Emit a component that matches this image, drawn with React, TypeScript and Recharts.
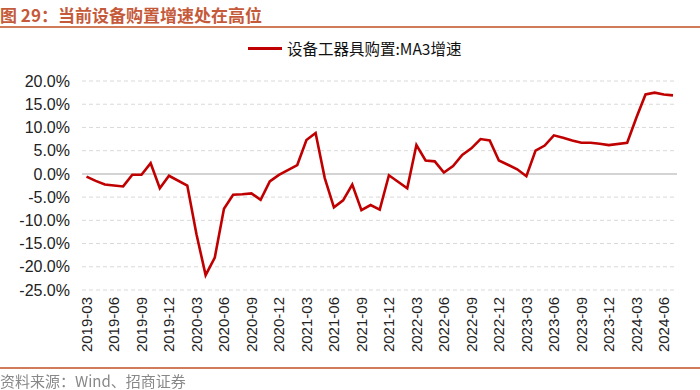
import { CartesianGrid, Line, LineChart, ReferenceLine, XAxis, YAxis } from 'recharts'

const months = [
  '2019-03', '2019-04', '2019-05', '2019-06', '2019-07', '2019-08', '2019-09', '2019-10', '2019-11', '2019-12',
  '2020-01', '2020-02', '2020-03', '2020-04', '2020-05', '2020-06', '2020-07', '2020-08', '2020-09', '2020-10',
  '2020-11', '2020-12', '2021-01', '2021-02', '2021-03', '2021-04', '2021-05', '2021-06', '2021-07', '2021-08',
  '2021-09', '2021-10', '2021-11', '2021-12', '2022-01', '2022-02', '2022-03', '2022-04', '2022-05', '2022-06',
  '2022-07', '2022-08', '2022-09', '2022-10', '2022-11', '2022-12', '2023-01', '2023-02', '2023-03', '2023-04',
  '2023-05', '2023-06', '2023-07', '2023-08', '2023-09', '2023-10', '2023-11', '2023-12', '2024-01', '2024-02',
  '2024-03', '2024-04', '2024-05', '2024-06', '2024-07',
]

// 设备工器具购置 MA3 增速 (%), 1月无单月数据
const ma3Growth: (number | null)[] = [
  -0.6, -1.5, -2.3, -2.5, -2.7, -0.2, -0.2, 2.3, -3.1, -0.4,
  null, -2.5, -13, -21.8, -18, -7.5, -4.5, -4.4, -4.2, -5.6,
  -1.6, -0.2, null, 1.9, 7.3, 8.8, -0.9, -7.2, -5.7, -2.3,
  -7.8, -6.7, -7.7, -0.3, null, -3.1, 6.2, 2.9, 2.7, 0.3,
  1.7, 4.1, 5.5, 7.5, 7.2, 2.9, null, 1.0, -0.5, 5.0,
  6.1, 8.3, 7.8, 7.2, 6.7, 6.7, 6.5, 6.2, null, 6.7,
  12.1, 17.1, 17.5, 17.1, 16.9,
]

const yTicks = [-25, -20, -15, -10, -5, 0, 5, 10, 15, 20]

const data = months.map((month, i) => ({ month, value: ma3Growth[i] }))

const ARIAL = '"Liberation Sans", Arial, sans-serif'
const CJK = '"Noto Sans CJK SC", "Liberation Sans", sans-serif'

function MonthTick({ x, y, payload }: any) {
  return (
    <text
      x={x}
      y={y}
      transform={`rotate(-90 ${x} ${y})`}
      textAnchor="end"
      dy="0.35em"
      fontSize={15}
      fontFamily={ARIAL}
      fill="#222"
    >
      {payload.value}
    </text>
  )
}

export default function App() {
  return (
    <div style={{ position: 'fixed', left: 0, top: 0, width: 700, height: 390, background: '#fff' }}>
      <div
        style={{
          position: 'absolute',
          left: 0,
          top: 2,
          fontFamily: CJK,
          fontWeight: 700,
          fontSize: 17,
          color: '#c55a3a',
          whiteSpace: 'nowrap',
        }}
      >
        图 29：当前设备购置增速处在高位
      </div>
      <div style={{ position: 'absolute', left: 0, top: 26, width: 700, height: 2, background: '#d27b58' }} />

      <div style={{ position: 'absolute', left: 248, top: 37, display: 'flex', alignItems: 'center' }}>
        <div style={{ width: 34, height: 3, background: '#c00000', marginRight: 5 }} />
        <span style={{ fontFamily: CJK, fontSize: 15.5, color: '#111', whiteSpace: 'nowrap' }}>
          设备工器具购置:MA3增速
        </span>
      </div>

      <LineChart width={700} height={390} data={data} margin={{ top: 81, right: 23, bottom: 30, left: 0 }}>
        <CartesianGrid vertical={false} stroke="#d9d9d9" strokeDasharray="4 3" />
        <XAxis
          dataKey="month"
          interval={2}
          axisLine={false}
          tickLine={false}
          tickSize={0}
          tickMargin={7}
          height={70}
          padding={{ left: 4.5, right: 4 }}
          tick={<MonthTick />}
        />
        <YAxis
          domain={[-25, 20]}
          ticks={yTicks}
          width={82}
          axisLine={false}
          tickLine={false}
          tickSize={0}
          tickMargin={12}
          tickFormatter={(v: number) => `${v.toFixed(1)}%`}
          tick={{ fontSize: 16, fontFamily: ARIAL, fill: '#222' }}
        />
        <ReferenceLine y={0} stroke="#d4d4d4" strokeWidth={2} />
        <Line
          type="linear"
          dataKey="value"
          stroke="#c00000"
          strokeWidth={2.6}
          dot={false}
          connectNulls
          isAnimationActive={false}
        />
      </LineChart>

      <div style={{ position: 'absolute', left: 0, top: 367, width: 700, height: 1.5, background: '#d27b58' }} />
      <div
        style={{
          position: 'absolute',
          left: 0,
          top: 370,
          fontFamily: CJK,
          fontSize: 15,
          color: '#888',
          whiteSpace: 'nowrap',
        }}
      >
        资料来源：Wind、招商证券
      </div>
    </div>
  )
}
